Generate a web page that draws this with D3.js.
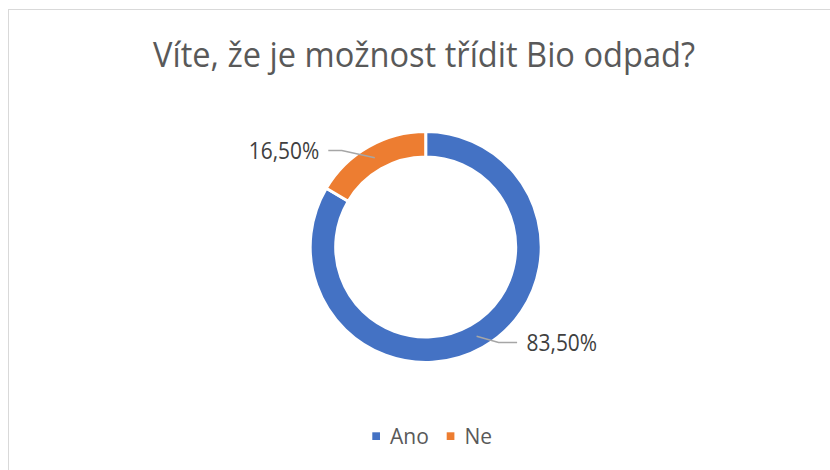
<!DOCTYPE html>
<html>
<head>
<meta charset="utf-8">
<script src="https://cdn.jsdelivr.net/npm/d3@7"></script>
<style>
  html, body { margin: 0; padding: 0; background: #fff; }
  svg { display: block; }
  text { font-family: "Open Sans", "Noto Sans", sans-serif; }
</style>
</head>
<body>
<svg id="chart" width="830" height="470"></svg>
<script>
const title = "Víte, že je možnost třídit Bio odpad?";
const categories = ["Ano", "Ne"];
const values = [83.5, 16.5];
const valueLabels = ["83,50%", "16,50%"];
const colors = ["#4472C4", "#ED7D31"];

const W = 830, H = 470;
const svg = d3.select("#chart");

// chart border
svg.append("rect")
  .attr("x", 8.5).attr("y", 9.5)
  .attr("width", W + 20).attr("height", H + 20)
  .attr("fill", "#fff")
  .attr("stroke", "#d9d9d9").attr("stroke-width", 1);

// title
svg.append("text")
  .attr("x", 424).attr("y", 67)
  .attr("text-anchor", "middle")
  .attr("font-size", 35)
  .attr("fill", "#595959")
  .attr("textLength", 542)
  .attr("lengthAdjust", "spacingAndGlyphs")
  .text(title);

const cx = 425.7, cy = 247, rOuter = 115.5, rInner = 90;
const g = svg.append("g").attr("transform", `translate(${cx},${cy})`);

const data = categories.map((c, i) => ({ cat: c, value: values[i], label: valueLabels[i], color: colors[i] }));
const pie = d3.pie().value(d => d.value).sort(null);
const arc = d3.arc().innerRadius(rInner).outerRadius(rOuter);
const mid = d3.arc().innerRadius((rInner + rOuter) / 2).outerRadius((rInner + rOuter) / 2);
const arcs = pie(data);

g.selectAll("path.slice")
  .data(arcs)
  .join("path")
  .attr("class", "slice")
  .attr("d", arc)
  .attr("fill", d => d.data.color)
  .attr("stroke", "#fff")
  .attr("stroke-width", 3);

// leader lines & labels
arcs.forEach(d => {
  const [mx, my] = mid.centroid(d);
  const right = mx > 0;
  const ex = mx + (right ? 22 : -33);
  const ey = my + (right ? 6.3 : -7.3);
  const hx = ex + (right ? 18.5 : -13.5);
  g.append("polyline")
    .attr("points", `${mx},${my} ${ex},${ey} ${hx},${ey}`)
    .attr("fill", "none")
    .attr("stroke", "#a6a6a6")
    .attr("stroke-width", 1.5);
  g.append("text")
    .attr("x", right ? hx + 9.5 : hx - 9)
    .attr("y", ey + 8.7)
    .attr("text-anchor", right ? "start" : "end")
    .attr("font-size", 23)
    .attr("fill", "#404040")
    .attr("textLength", 70.5)
    .attr("lengthAdjust", "spacingAndGlyphs")
    .text(d.data.label);
});

// legend
const legendX = [372.3, 446.7];
const lg = svg.append("g");
data.forEach((d, i) => {
  lg.append("rect")
    .attr("x", legendX[i]).attr("y", 432.3)
    .attr("width", 7.7).attr("height", 7.7)
    .attr("fill", d.color);
  lg.append("text")
    .attr("x", legendX[i] + 17.7).attr("y", 444)
    .attr("font-size", 21)
    .attr("fill", "#595959")
    .text(d.cat);
});
</script>
</body>
</html>
